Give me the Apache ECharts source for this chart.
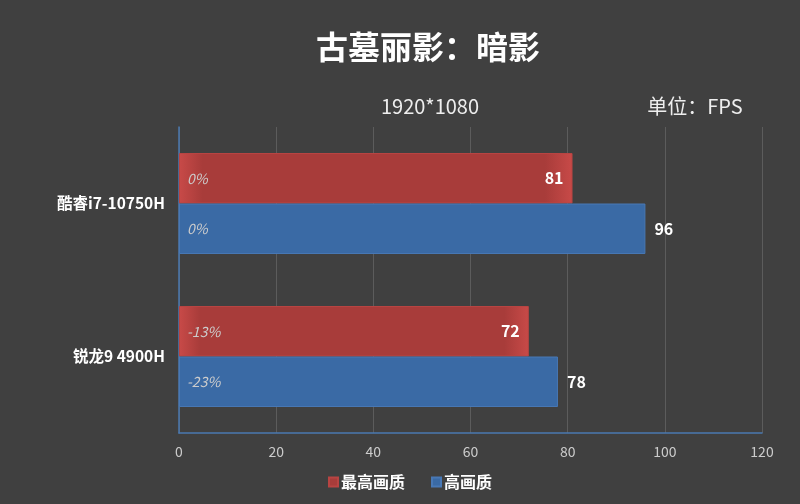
<!DOCTYPE html>
<html><head><meta charset="utf-8">
<script src="https://cdn.jsdelivr.net/npm/echarts@6/dist/echarts.min.js"></script>
<style>html,body{margin:0;padding:0;background:#404040;}#c{width:800px;height:504px;}</style>
</head><body><div id="c"></div>
<script>
const categories = ['酷睿i7-10750H', '锐龙9 4900H'];
const seriesNames = ['最高画质', '高画质'];
const ultraValues = [81, 72];
const highValues = [96, 78];
const ultraPct = ['0%', '-13%'];
const highPct = ['0%', '-23%'];
const xTicks = [0, 20, 40, 60, 80, 100, 120];

const chart = echarts.init(document.getElementById('c'));
const font = '"Microsoft YaHei","Noto Sans CJK SC",sans-serif';
const redGrad = new echarts.graphic.LinearGradient(0,0,1,0,[
  {offset:0,color:'#c84a48'},{offset:0.06,color:'#a83c3a'},{offset:0.93,color:'#a83c3a'},{offset:1,color:'#c84a48'}]);
const pctLabel = (arr) => ({show:true, position:'insideLeft', offset:[3,0], color:'#cccccc', fontStyle:'italic', fontSize:14, fontFamily:font, formatter:p=>arr[p.dataIndex]});
chart.setOption({
  backgroundColor:'#404040',
  textStyle:{fontFamily:font},
  title:[
    {text:'古墓丽影：暗影', left:423, top:26, textAlign:'center', textStyle:{color:'#ffffff', fontSize:32, fontWeight:'bold', fontFamily:font}},
    {text:'1920*1080', left:425, top:91, textAlign:'center', textStyle:{color:'#eeeeee', fontSize:20, fontWeight:'normal', fontFamily:font}},
    {text:'单位：FPS', left:690, top:91, textAlign:'center', textStyle:{color:'#eeeeee', fontSize:20, fontWeight:'normal', fontFamily:font}}
  ],
  legend:{data:seriesNames, bottom:9, left:323, itemWidth:9, itemHeight:9, itemGap:26, icon:'rect',
    textStyle:{color:'#ffffff', fontSize:16, fontWeight:'bold', fontFamily:font, padding:[0,0,0,-2]}},
  grid:{left:179, right:38, top:127, bottom:71, containLabel:false},
  xAxis:{type:'value', min:0, max:120, interval:20,
    axisLine:{show:true, lineStyle:{color:'#4a78b0', width:1.5}},
    axisTick:{show:false},
    axisLabel:{color:'#cccccc', fontSize:14, margin:12, fontFamily:font, formatter:v=>xTicks.includes(v)?String(v):''},
    splitLine:{show:true, lineStyle:{color:'#5c5c5c', width:1}}},
  yAxis:[
    {type:'category', data:categories, inverse:true,
      axisLine:{show:true, lineStyle:{color:'#4a78b0', width:1.5}},
      axisTick:{show:false},
      axisLabel:{color:'#ffffff', fontSize:15.5, fontWeight:'bold', margin:14, fontFamily:font}},
    {type:'category', data:categories, inverse:true, show:false, position:'left'}
  ],
  series:[
    {name:seriesNames[0], type:'bar', data:ultraValues, barGap:'0%', barCategoryGap:'34%',
      itemStyle:{color:redGrad, borderColor:'#b84442', borderWidth:1},
      label:{show:true, position:'insideRight', offset:[-4,0], color:'#ffffff', fontWeight:'bold', fontSize:16, fontFamily:font}},
    {name:seriesNames[1], type:'bar', data:highValues, barGap:'0%', barCategoryGap:'34%',
      itemStyle:{color:'#3a6aa5', borderColor:'#4878b5', borderWidth:1},
      label:{show:true, position:'right', offset:[4,0], color:'#ffffff', fontWeight:'bold', fontSize:16, fontFamily:font}},
    {name:'u2', type:'bar', yAxisIndex:1, data:ultraValues, barGap:'0%', barCategoryGap:'34%', silent:true,
      itemStyle:{color:'rgba(0,0,0,0)'}, label:pctLabel(ultraPct)},
    {name:'h2', type:'bar', yAxisIndex:1, data:highValues, barGap:'0%', barCategoryGap:'34%', silent:true,
      itemStyle:{color:'rgba(0,0,0,0)'}, label:pctLabel(highPct)}
  ]
});
</script></body></html>
